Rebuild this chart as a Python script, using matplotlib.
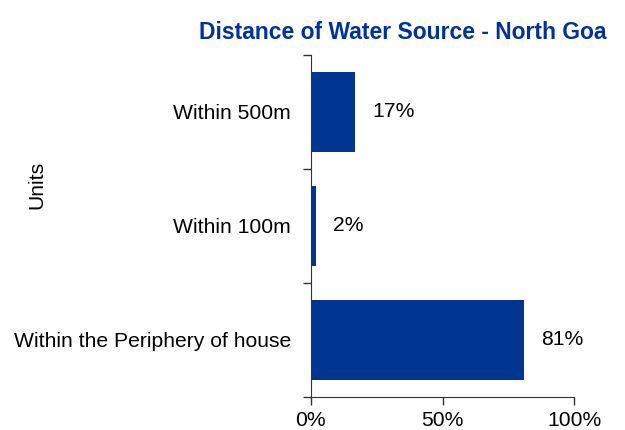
import matplotlib.pyplot as plt
from matplotlib.ticker import FixedLocator

plt.rcParams['font.family'] = ['Liberation Sans', 'DejaVu Sans']

# data
categories = ['Within the Periphery of house', 'Within 100m', 'Within 500m']
shares = [81, 2, 17]
x_ticks = [0, 50, 100]

bar_color = '#003591'
fs = 15.2

fig = plt.figure(figsize=(6.25, 4.3), dpi=100)
ax = fig.add_axes([0.497, 0.0775, 0.422, 0.795])

pos = list(range(len(categories)))
ax.barh(pos, shares, height=0.7, color=bar_color)

for p, v in zip(pos, shares):
    ax.text(v + 6.5, p, f'{v}%', va='center', ha='left', fontsize=fs, color='black')

ax.set_xlim(0, 100)
ax.set_ylim(-0.5, len(categories) - 0.5)
ax.set_xticks(x_ticks)
ax.set_xticklabels([f'{t}%' for t in x_ticks], fontsize=fs)
ax.set_yticks(pos)
ax.set_yticklabels(categories, fontsize=fs)
ax.yaxis.set_minor_locator(FixedLocator([-0.5, 0.5, 1.5, 2.5]))

ax.tick_params(axis='y', which='major', length=0, pad=14)
ax.tick_params(axis='y', which='minor', length=6, width=1, color='#333333')
ax.tick_params(axis='x', length=6, width=1, color='#333333', pad=4)

for s in ['top', 'right']:
    ax.spines[s].set_visible(False)
for s in ['left', 'bottom']:
    ax.spines[s].set_color('#333333')

fig.text(0.645, 0.925, 'Distance of Water Source - North Goa', ha='center', va='center',
         fontsize=16.5, fontweight='bold', color='#003399')
fig.text(37 / 625, 1 - 185 / 430, 'Units', rotation=90, ha='center', va='center', fontsize=fs)

plt.savefig('out.png', dpi=100)
